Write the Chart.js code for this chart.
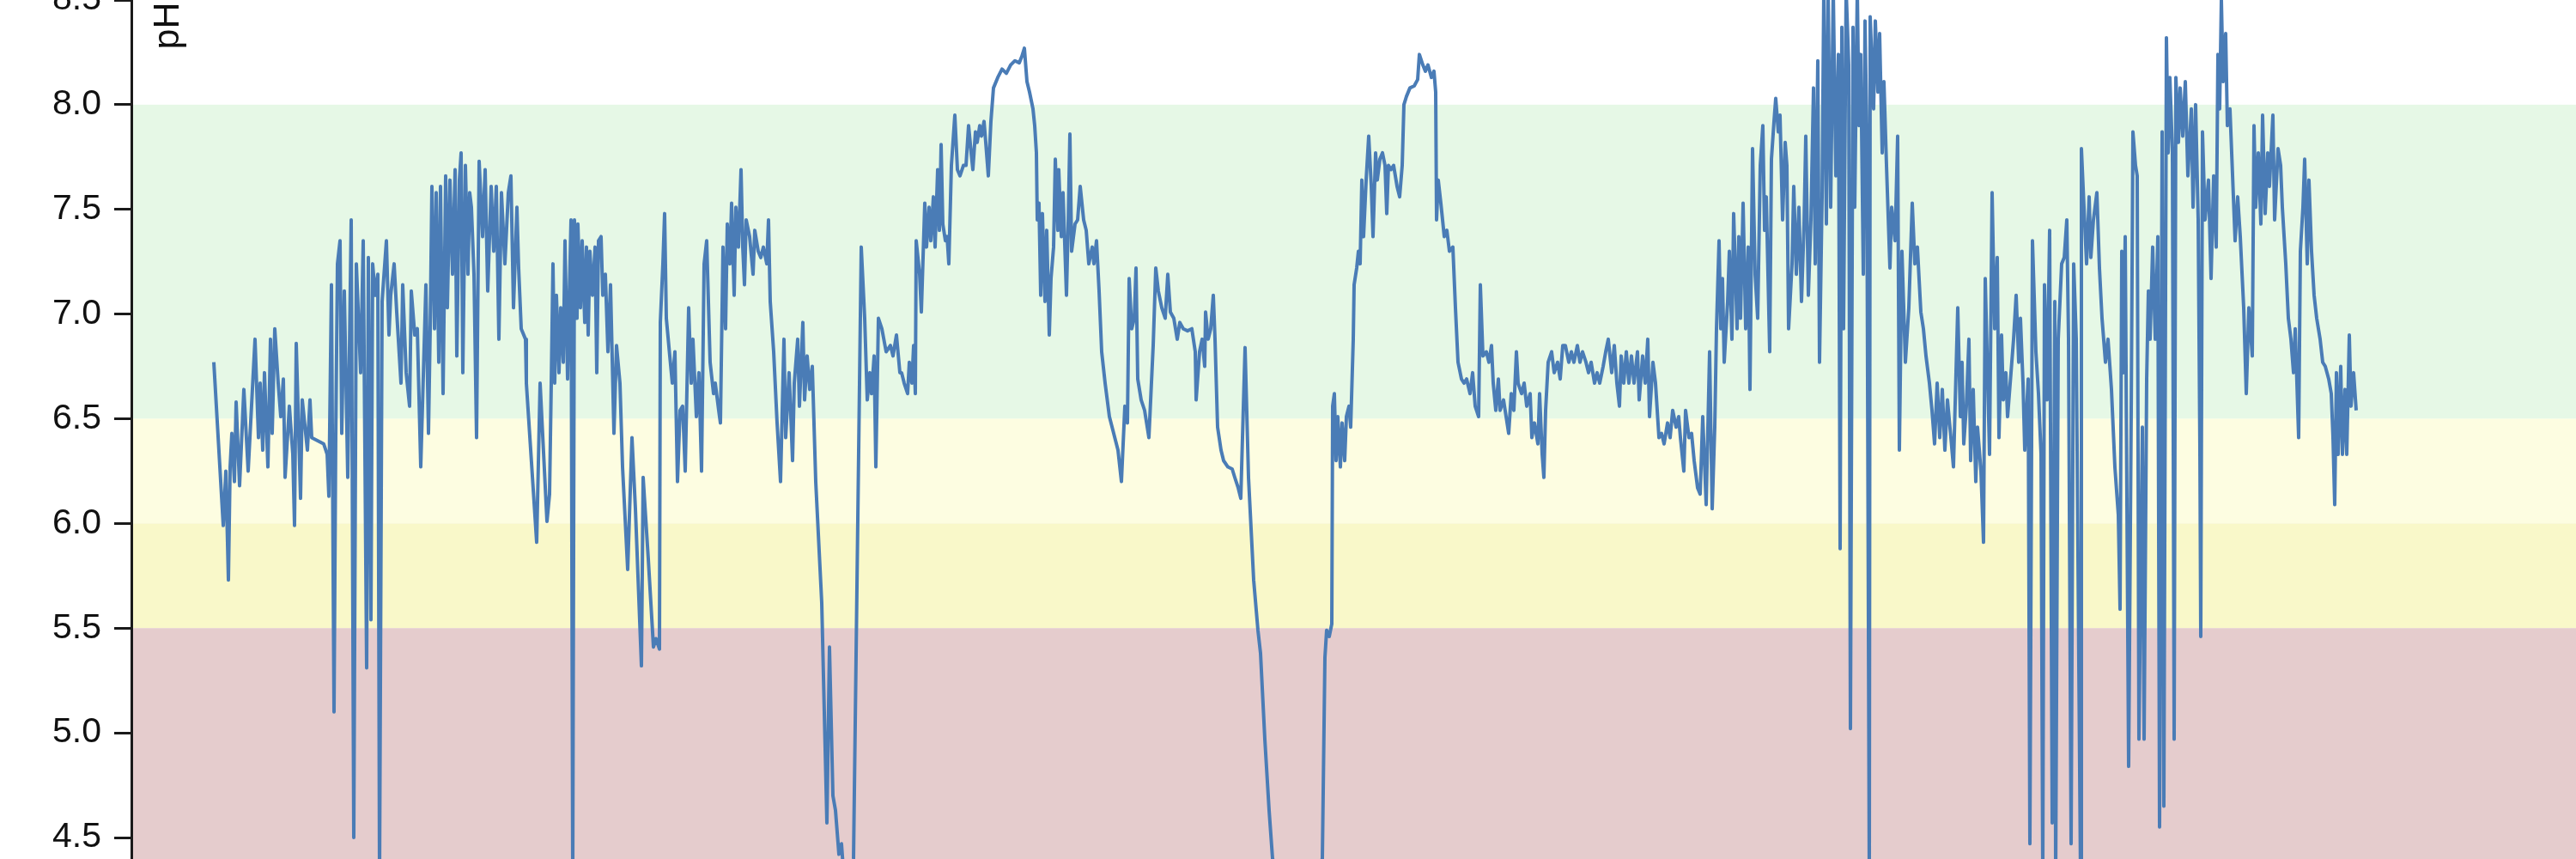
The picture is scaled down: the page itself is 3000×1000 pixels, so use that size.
<!DOCTYPE html>
<html>
<head>
<meta charset="utf-8">
<script src="https://cdn.jsdelivr.net/npm/chart.js@4.4.1/dist/chart.umd.min.js"></script>
<style>
    html, body { margin: 0; padding: 0; background: #fff; overflow: hidden; }
    body { width: 3000px; height: 1000px; position: relative; }
    /* the reference is a crop: the plot runs past the top and bottom edges */
    #wrap { position: absolute; left: 0; top: -100px; width: 3000px; height: 1250px; }
</style>
</head>
<body>
<div id="wrap"><canvas id="phChart" width="3000" height="1250"></canvas></div>
<script>
const sampleHours = [
    0.0, 1.1, 1.4, 1.7, 1.9, 2.1, 2.4, 2.6, 3.0, 3.5,
    4.0, 4.8, 5.2, 5.4, 5.7, 5.9, 6.3, 6.6, 6.8, 7.1,
    7.5, 7.8, 8.1, 8.3, 8.8, 9.2, 9.4, 9.6, 10.1, 10.3,
    10.9, 11.2, 11.4, 12.8, 13.2, 13.4, 13.7, 14.0, 14.2, 14.4,
    14.7, 14.9, 15.2, 15.6, 16.0, 16.3, 16.6, 17.1, 17.4, 17.8,
    18.0, 18.3, 18.5, 18.8, 19.1, 19.3, 19.6, 20.1, 20.4, 20.6,
    21.0, 21.3, 21.8, 22.0, 22.4, 22.8, 23.0, 23.4, 23.7, 24.1,
    24.7, 25.0, 25.2, 25.4, 25.7, 25.9, 26.2, 26.4, 26.7, 27.0,
    27.2, 27.5, 27.8, 28.1, 28.3, 28.6, 28.8, 29.0, 29.3, 29.6,
    29.8, 30.0, 30.3, 30.6, 30.9, 31.3, 31.6, 31.9, 32.3, 32.6,
    32.9, 33.2, 33.5, 33.9, 34.3, 34.6, 34.9, 35.3, 35.5, 35.8,
    36.3, 36.4, 37.6, 38.0, 38.8, 39.1, 39.3, 39.5, 39.7, 39.9,
    40.2, 40.4, 40.7, 40.9, 41.2, 41.4, 41.6, 41.8, 42.0, 42.3,
    42.4, 42.7, 42.9, 43.2, 43.4, 43.6, 43.8, 44.1, 44.4, 44.6,
    44.8, 45.1, 45.3, 45.6, 45.9, 46.2, 46.6, 46.9, 47.3, 47.6,
    48.2, 48.7, 49.1, 49.8, 50.0, 50.6, 51.2, 51.5, 51.9, 52.0,
    52.3, 52.5, 52.7, 53.1, 53.4, 53.7, 54.0, 54.3, 54.6, 54.9,
    55.3, 55.6, 55.8, 56.2, 56.5, 56.8, 57.1, 57.4, 57.8, 58.2,
    58.4, 58.8, 59.0, 59.3, 59.6, 59.8, 60.1, 60.3, 60.6, 60.8,
    61.1, 61.4, 61.6, 61.8, 62.0, 62.4, 62.8, 63.0, 63.4, 63.7,
    64.0, 64.4, 64.6, 64.8, 65.2, 65.6, 66.0, 66.4, 66.6, 67.0,
    67.4, 67.6, 68.0, 68.2, 68.6, 68.8, 69.1, 69.4, 69.7, 70.1,
    70.8, 71.4, 71.7, 72.1, 72.4, 72.8, 73.1, 73.4, 73.8, 74.5,
    75.4, 75.8, 76.1, 76.4, 76.6, 76.9, 77.1, 77.4, 77.8, 78.3,
    78.8, 79.1, 79.5, 79.9, 80.1, 80.4, 80.8, 81.0, 81.3, 81.5,
    81.7, 81.8, 82.2, 82.4, 82.8, 83.0, 83.3, 83.5, 83.8, 84.0,
    84.3, 84.5, 84.7, 84.9, 85.2, 85.4, 85.6, 85.9, 86.3, 86.6,
    86.9, 87.3, 87.6, 87.9, 88.2, 88.4, 88.7, 88.9, 89.2, 89.4,
    89.7, 89.9, 90.2, 90.5, 90.8, 91.3, 91.8, 92.3, 92.8, 93.3,
    93.8, 94.1, 94.4, 94.7, 95.0, 95.4, 95.6, 95.8, 95.9, 96.1,
    96.3, 96.5, 96.8, 97.0, 97.3, 97.5, 97.8, 98.0, 98.3, 98.4,
    98.7, 98.9, 99.3, 99.5, 99.7, 99.9, 100.3, 100.6, 100.9, 101.3,
    101.6, 101.9, 102.3, 102.5, 102.8, 103.1, 103.4, 103.8, 104.3, 104.8,
    105.3, 105.7, 106.1, 106.4, 106.6, 106.9, 107.2, 107.4, 107.6, 108.0,
    108.4, 108.9, 109.4, 109.7, 110.0, 110.4, 110.8, 111.1, 111.4, 111.8,
    112.2, 112.5, 112.9, 113.4, 113.9, 114.3, 114.4, 114.8, 115.1, 115.4,
    115.5, 115.8, 116.1, 116.4, 116.6, 116.9, 117.3, 117.6, 118.1, 118.6,
    118.9, 119.3, 119.6, 119.8, 120.1, 120.5, 121.1, 121.6, 121.9, 122.4,
    122.9, 123.3, 126.1, 129.1, 129.4, 129.6, 129.9, 130.2, 130.3, 130.5,
    130.7, 130.9, 131.2, 131.4, 131.7, 131.9, 132.2, 132.4, 132.7, 132.8,
    133.1, 133.3, 133.5, 133.7, 133.9, 134.2, 134.5, 134.8, 135.0, 135.3,
    135.5, 135.8, 136.1, 136.4, 136.6, 136.8, 137.1, 137.4, 137.8, 138.1,
    138.4, 138.6, 138.9, 139.3, 139.8, 140.2, 140.4, 140.8, 141.1, 141.4,
    141.8, 142.1, 142.3, 142.4, 142.6, 142.9, 143.3, 143.6, 143.9, 144.3,
    144.6, 144.9, 145.3, 145.6, 145.9, 146.3, 146.6, 146.9, 147.3, 147.5,
    147.8, 148.2, 148.5, 148.8, 149.0, 149.3, 149.6, 149.8, 150.2, 150.5,
    150.8, 151.1, 151.4, 151.7, 151.9, 152.3, 152.6, 152.9, 153.3, 153.5,
    153.8, 154.2, 154.4, 154.7, 154.9, 155.1, 155.4, 155.8, 156.1, 156.5,
    156.8, 157.1, 157.4, 157.8, 158.1, 158.4, 158.8, 159.1, 159.4, 159.8,
    160.1, 160.4, 160.8, 161.1, 161.4, 161.8, 162.1, 162.4, 162.8, 163.1,
    163.4, 163.7, 163.9, 164.2, 164.5, 164.8, 165.1, 165.4, 165.8, 166.0,
    166.4, 166.7, 167.0, 167.2, 167.6, 167.9, 168.3, 168.6, 168.9, 169.3,
    169.6, 169.9, 170.3, 170.6, 170.8, 171.2, 171.4, 171.8, 172.1, 172.4,
    172.8, 173.1, 173.4, 173.8, 174.2, 174.5, 174.8, 175.0, 175.3, 175.5,
    175.7, 175.9, 176.3, 176.5, 176.8, 177.0, 177.4, 177.6, 177.8, 178.1,
    178.4, 178.7, 178.9, 179.2, 179.5, 179.8, 180.1, 180.4, 180.6, 180.8,
    181.2, 181.4, 181.7, 181.9, 182.2, 182.4, 182.7, 183.0, 183.2, 183.4,
    183.8, 184.0, 184.3, 184.6, 184.9, 185.2, 185.4, 185.7, 186.0, 186.3,
    186.5, 186.8, 187.0, 187.3, 187.5, 187.8, 188.0, 188.3, 188.6, 188.9,
    189.2, 189.4, 189.6, 189.8, 190.1, 190.4, 190.6, 190.9, 191.1, 191.4,
    191.6, 191.8, 192.1, 192.3, 192.5, 192.8, 192.9, 193.3, 193.5, 193.8,
    194.0, 194.3, 194.5, 194.8, 195.2, 195.4, 195.8, 196.1, 196.3, 196.6,
    197.0, 197.4, 197.8, 198.1, 198.4, 198.8, 199.1, 199.4, 199.8, 200.1,
    200.4, 200.7, 201.0, 201.3, 201.6, 201.9, 202.3, 202.6, 203.1, 203.4,
    203.6, 203.8, 204.1, 204.4, 204.6, 204.9, 205.2, 205.4, 205.8, 206.1,
    206.3, 206.6, 206.8, 207.1, 207.4, 207.7, 207.9, 208.2, 208.4, 208.7,
    208.9, 209.3, 209.6, 209.9, 210.2, 210.4, 210.7, 210.9, 211.3, 211.5,
    211.8, 212.2, 212.5, 212.8, 213.0, 213.2, 213.5, 213.8, 214.1, 214.4,
    214.5, 214.8, 215.2, 215.5, 215.8, 216.0, 216.3, 216.6, 216.9, 217.4,
    217.5, 217.8, 218.1, 218.4, 218.6, 218.9, 219.3, 219.6, 219.9, 220.3,
    220.6, 221.0, 221.4, 221.8, 222.0, 222.2, 222.4, 222.6, 223.0, 223.3,
    223.5, 223.8, 224.0, 224.2, 224.6, 224.8, 225.1, 225.3, 225.5, 225.8,
    226.1, 226.4, 226.6, 226.9, 227.1, 227.4, 227.6, 227.8, 228.1, 228.3,
    228.5, 228.8, 229.0, 229.3, 229.6, 229.9, 230.3, 230.5, 230.8, 231.1,
    231.3, 231.4, 231.6, 231.9, 232.3, 232.6, 232.9, 233.2, 233.4, 233.6,
    233.8, 234.0, 234.3, 234.5, 234.8, 235.0, 235.4, 235.7, 236.0, 236.4,
    236.7, 237.0, 237.4, 237.6, 237.8, 238.1, 238.4, 238.6, 238.9, 239.2,
    239.4, 239.8, 240.0, 240.4, 240.7, 240.9, 241.3, 241.6, 241.9, 242.2,
    242.4, 242.8, 243.0, 243.3, 243.5, 243.8, 244.0, 244.3, 244.6, 244.9,
    245.3, 245.6, 245.9, 246.3, 246.6, 246.8, 247.0, 247.2, 247.4, 247.7,
    247.9, 248.2, 248.4, 248.7, 248.9, 249.2, 249.5
];

const phValues = [
    6.77, 5.99, 6.25, 5.73, 6.27, 6.43, 6.20, 6.58, 6.18, 6.64,
    6.25, 6.88, 6.41, 6.67, 6.35, 6.72, 6.27, 6.88, 6.43, 6.93,
    6.67, 6.51, 6.69, 6.22, 6.56, 6.33, 5.99, 6.86, 6.12, 6.59,
    6.35, 6.59, 6.41, 6.38, 6.33, 6.13, 7.14, 5.10, 6.41, 7.24,
    7.35, 6.43, 7.11, 6.22, 7.45, 4.50, 7.24, 6.72, 7.35, 5.31,
    7.27, 5.54, 7.24, 7.09, 7.19, 4.30, 7.06, 7.35, 6.90, 7.09,
    7.24, 7.01, 6.67, 7.14, 6.72, 6.56, 7.11, 6.90, 6.93, 6.27,
    7.14, 6.43, 6.93, 7.61, 6.93, 7.58, 6.77, 7.61, 6.62, 7.66,
    7.03, 7.64, 7.19, 7.69, 6.80, 7.64, 7.77, 6.72, 7.71, 7.19,
    7.58, 7.51, 7.19, 6.41, 7.73, 7.37, 7.69, 7.11, 7.61, 7.30,
    7.61, 6.88, 7.58, 7.24, 7.58, 7.66, 7.03, 7.51, 7.22, 6.93,
    6.88, 6.67, 5.91, 6.67, 6.01, 6.14, 6.67, 7.24, 6.67, 7.09,
    6.72, 7.03, 6.77, 7.35, 6.69, 7.09, 7.45, 4.30, 7.45, 6.98,
    7.43, 7.03, 7.35, 6.96, 7.32, 6.90, 7.30, 7.09, 7.32, 6.72,
    7.35, 7.37, 7.09, 7.19, 6.82, 7.14, 6.43, 6.85, 6.67, 6.27,
    5.78, 6.41, 6.07, 5.32, 6.22, 5.83, 5.41, 5.45, 5.40, 6.96,
    7.24, 7.48, 6.98, 6.80, 6.67, 6.82, 6.20, 6.54, 6.56, 6.25,
    7.03, 6.67, 6.88, 6.51, 6.72, 6.25, 7.24, 7.35, 6.77, 6.62,
    6.67, 6.54, 6.48, 7.32, 6.93, 7.43, 7.24, 7.53, 7.09, 7.51,
    7.32, 7.69, 7.32, 7.14, 7.45, 7.37, 7.19, 7.40, 7.30, 7.27,
    7.32, 7.24, 7.45, 7.06, 6.82, 6.48, 6.20, 6.88, 6.41, 6.72,
    6.30, 6.67, 6.88, 6.56, 6.96, 6.59, 6.80, 6.64, 6.75, 6.20,
    5.62, 4.57, 5.41, 4.70, 4.63, 4.42, 4.47, 4.30, 4.10, 4.40,
    7.32, 6.98, 6.59, 6.72, 6.62, 6.80, 6.27, 6.98, 6.93, 6.82,
    6.85, 6.80, 6.90, 6.72, 6.72, 6.67, 6.62, 6.77, 6.67, 6.85,
    6.62, 7.35, 7.19, 7.01, 7.53, 7.32, 7.51, 7.35, 7.56, 7.32,
    7.69, 7.40, 7.81, 7.43, 7.35, 7.37, 7.24, 7.71, 7.95, 7.69,
    7.66, 7.71, 7.71, 7.90, 7.77, 7.69, 7.87, 7.82, 7.90, 7.85,
    7.92, 7.82, 7.66, 7.92, 8.08, 8.13, 8.17, 8.15, 8.19, 8.21,
    8.20, 8.23, 8.27, 8.11, 8.06, 7.98, 7.90, 7.77, 7.45, 7.53,
    7.09, 7.48, 7.06, 7.40, 6.90, 7.17, 7.32, 7.74, 7.40, 7.69,
    7.37, 7.58, 7.09, 7.43, 7.86, 7.30, 7.43, 7.45, 7.61, 7.45,
    7.40, 7.24, 7.32, 7.24, 7.35, 7.11, 6.82, 6.67, 6.51, 6.43,
    6.35, 6.20, 6.56, 6.48, 7.17, 6.93, 6.98, 7.22, 6.69, 6.59,
    6.54, 6.41, 6.85, 7.22, 7.11, 7.03, 6.98, 7.19, 7.01, 6.98,
    6.88, 6.96, 6.93, 6.92, 6.93, 6.82, 6.59, 6.82, 6.88, 6.75,
    7.01, 6.88, 6.93, 7.09, 6.88, 6.46, 6.35, 6.30, 6.27, 6.26,
    6.22, 6.17, 6.12, 6.41, 6.84, 6.22, 5.73, 5.49, 5.38, 4.97,
    4.63, 4.40, 4.05, 4.40, 5.36, 5.49, 5.46, 5.52, 6.56, 6.62,
    6.30, 6.51, 6.27, 6.48, 6.30, 6.51, 6.56, 6.46, 6.88, 7.14,
    7.22, 7.30, 7.24, 7.64, 7.37, 7.64, 7.85, 7.61, 7.37, 7.77,
    7.64, 7.74, 7.77, 7.71, 7.48, 7.71, 7.69, 7.71, 7.61, 7.56,
    7.71, 8.00, 8.04, 8.08, 8.09, 8.12, 8.24, 8.19, 8.16, 8.19,
    8.13, 8.16, 8.06, 7.45, 7.64, 7.53, 7.37, 7.40, 7.30, 7.32,
    7.03, 6.77, 6.69, 6.67, 6.69, 6.62, 6.72, 6.56, 6.51, 7.14,
    6.80, 6.82, 6.77, 6.85, 6.67, 6.54, 6.69, 6.54, 6.59, 6.51,
    6.43, 6.62, 6.54, 6.82, 6.67, 6.62, 6.67, 6.56, 6.62, 6.41,
    6.48, 6.38, 6.62, 6.33, 6.22, 6.54, 6.77, 6.82, 6.72, 6.77,
    6.69, 6.85, 6.85, 6.77, 6.82, 6.77, 6.85, 6.77, 6.82, 6.77,
    6.72, 6.77, 6.67, 6.72, 6.67, 6.75, 6.82, 6.88, 6.72, 6.85,
    6.67, 6.56, 6.80, 6.67, 6.82, 6.67, 6.80, 6.67, 6.82, 6.59,
    6.80, 6.67, 6.88, 6.51, 6.77, 6.67, 6.41, 6.43, 6.38, 6.48,
    6.41, 6.54, 6.46, 6.51, 6.41, 6.25, 6.54, 6.41, 6.43, 6.30,
    6.17, 6.14, 6.51, 6.09, 6.82, 6.07, 6.46, 6.93, 7.35, 6.93,
    7.17, 6.77, 7.06, 7.30, 6.88, 7.48, 6.93, 7.37, 6.98, 7.53,
    6.93, 7.32, 6.64, 7.79, 7.19, 6.98, 7.71, 7.90, 7.40, 7.56,
    6.82, 7.74, 7.92, 8.03, 7.87, 7.95, 7.45, 7.82, 7.71, 6.93,
    7.24, 7.61, 7.19, 7.51, 7.06, 7.43, 7.85, 7.09, 7.45, 8.08,
    7.24, 8.21, 6.77, 7.56, 8.55, 7.43, 8.55, 7.51, 8.55, 7.66,
    8.24, 5.88, 8.37, 6.93, 8.55, 8.19, 5.02, 8.37, 7.51, 8.55,
    7.90, 8.24, 7.19, 8.40, 7.87, 4.30, 8.42, 7.98, 8.40, 8.06,
    8.34, 7.77, 8.11, 7.71, 7.22, 7.51, 7.35, 7.85, 6.35, 7.30,
    6.77, 7.03, 7.53, 7.24, 7.32, 7.01, 6.93, 6.80, 6.67, 6.54,
    6.38, 6.67, 6.41, 6.64, 6.35, 6.59, 6.41, 6.27, 7.03, 6.51,
    6.77, 6.38, 6.56, 6.88, 6.30, 6.64, 6.20, 6.46, 6.25, 5.91,
    7.17, 6.67, 6.33, 7.58, 6.93, 7.27, 6.41, 6.90, 6.59, 6.72,
    6.51, 6.72, 6.88, 7.09, 6.77, 6.98, 6.67, 6.35, 6.69, 4.47,
    7.35, 6.82, 6.62, 6.33, 4.30, 7.14, 6.59, 7.40, 4.57, 7.06,
    4.30, 6.88, 7.24, 7.27, 7.45, 6.88, 4.47, 7.24, 6.88, 4.30,
    7.79, 7.51, 7.24, 7.56, 7.27, 7.45, 7.58, 7.22, 6.98, 6.77,
    6.88, 6.64, 6.27, 6.04, 5.59, 7.30, 6.72, 7.37, 4.84, 6.54,
    7.87, 7.71, 7.66, 4.97, 6.46, 4.97, 6.69, 7.11, 6.88, 7.32,
    6.88, 7.37, 4.55, 7.87, 4.65, 8.32, 7.77, 8.13, 7.77, 4.97,
    8.13, 7.82, 8.08, 7.85, 8.11, 7.66, 7.98, 7.51, 8.00, 7.45,
    6.35, 5.46, 7.87, 7.45, 7.64, 7.17, 7.66, 7.32, 8.24, 7.98,
    8.50, 8.11, 8.34, 7.90, 7.98, 7.77, 7.35, 7.56, 7.37, 7.03,
    6.62, 7.03, 6.80, 7.90, 7.51, 7.77, 7.43, 7.95, 7.48, 7.77,
    7.61, 7.95, 7.45, 7.79, 7.71, 7.51, 7.24, 6.98, 6.88, 6.72,
    6.93, 6.41, 7.30, 7.51, 7.74, 7.24, 7.64, 7.30, 7.09, 6.98,
    6.88, 6.77, 6.75, 6.69, 6.62, 6.41, 6.09, 6.72, 6.33, 6.75,
    6.33, 6.64, 6.33, 6.90, 6.56, 6.72, 6.54
];

// pH zones shaded behind the trace (upper, lower)
const zoneTops = [8.0, 6.5, 6.0, 5.5];
const zoneBottoms = [6.5, 6.0, 5.5, 4.0];
const zoneColors = ['#e6f8e6', '#fdfde1', '#f9f8c9', '#e5cccd'];

const yTicks = [4.0, 4.5, 5.0, 5.5, 6.0, 6.5, 7.0, 7.5, 8.0, 8.5];

if (sampleHours.length !== phValues.length) {
    console.warn('length mismatch', sampleHours.length, phValues.length);
}

const points = phValues.map((v, i) => ({ x: sampleHours[i], y: v }));

// colour bands go in before anything else so the axis line sits on top
const zonePlugin = {
    id: 'zones',
    beforeDraw(chart) {
        const { ctx, chartArea, scales } = chart;
        ctx.save();
        zoneTops.forEach((top, i) => {
            const y1 = scales.y.getPixelForValue(top);
            const y2 = Math.min(scales.y.getPixelForValue(zoneBottoms[i]), chartArea.bottom);
            ctx.fillStyle = zoneColors[i];
            ctx.fillRect(chartArea.left, y1, chartArea.right - chartArea.left, y2 - y1);
        });
        ctx.restore();
    }
};

// rotated "pH" label, sitting just inside the axis near the top
const phLabelPlugin = {
    id: 'phLabel',
    afterDraw(chart) {
        const { ctx, chartArea } = chart;
        ctx.save();
        ctx.translate(chartArea.left + 55, chartArea.top + 30);
        ctx.rotate(-Math.PI / 2);
        ctx.font = '43px "Liberation Sans", Arial, sans-serif';
        ctx.fillStyle = '#111';
        ctx.textAlign = 'center';
        ctx.textBaseline = 'alphabetic';
        ctx.fillText('pH', 0, 0);
        ctx.restore();
    }
};

const ctx = document.getElementById('phChart').getContext('2d');
new Chart(ctx, {
    type: 'line',
    data: {
        datasets: [{
            label: 'pH',
            data: points,
            borderColor: '#4a7cb6',
            borderWidth: 4,
            borderJoinStyle: 'round',
            pointRadius: 0,
            tension: 0,
            fill: false
        }]
    },
    options: {
        responsive: false,
        maintainAspectRatio: false,
        devicePixelRatio: 1,
        animation: false,
        layout: {
            padding: { top: 100, bottom: 53.125, left: 0, right: 0 }
        },
        plugins: {
            legend: { display: false },
            tooltip: { enabled: false }
        },
        scales: {
            x: {
                type: 'linear',
                display: false,
                min: -9.6,
                max: 275.1
            },
            y: {
                min: 4.0,
                max: 8.5,
                afterFit(scale) { scale.width = 153; },
                afterBuildTicks(scale) {
                    scale.ticks = yTicks.map(v => ({ value: v }));
                },
                border: { display: true, color: '#1a1a1a', width: 3 },
                grid: {
                    drawOnChartArea: false,
                    drawTicks: true,
                    tickLength: 20,
                    tickWidth: 3,
                    tickColor: '#1a1a1a'
                },
                ticks: {
                    padding: 15,
                    color: '#111',
                    font: { family: '"Liberation Sans", Arial, sans-serif', size: 41 },
                    callback: v => Number(v).toFixed(1)
                }
            }
        }
    },
    plugins: [zonePlugin, phLabelPlugin]
});
</script>
</body>
</html>
